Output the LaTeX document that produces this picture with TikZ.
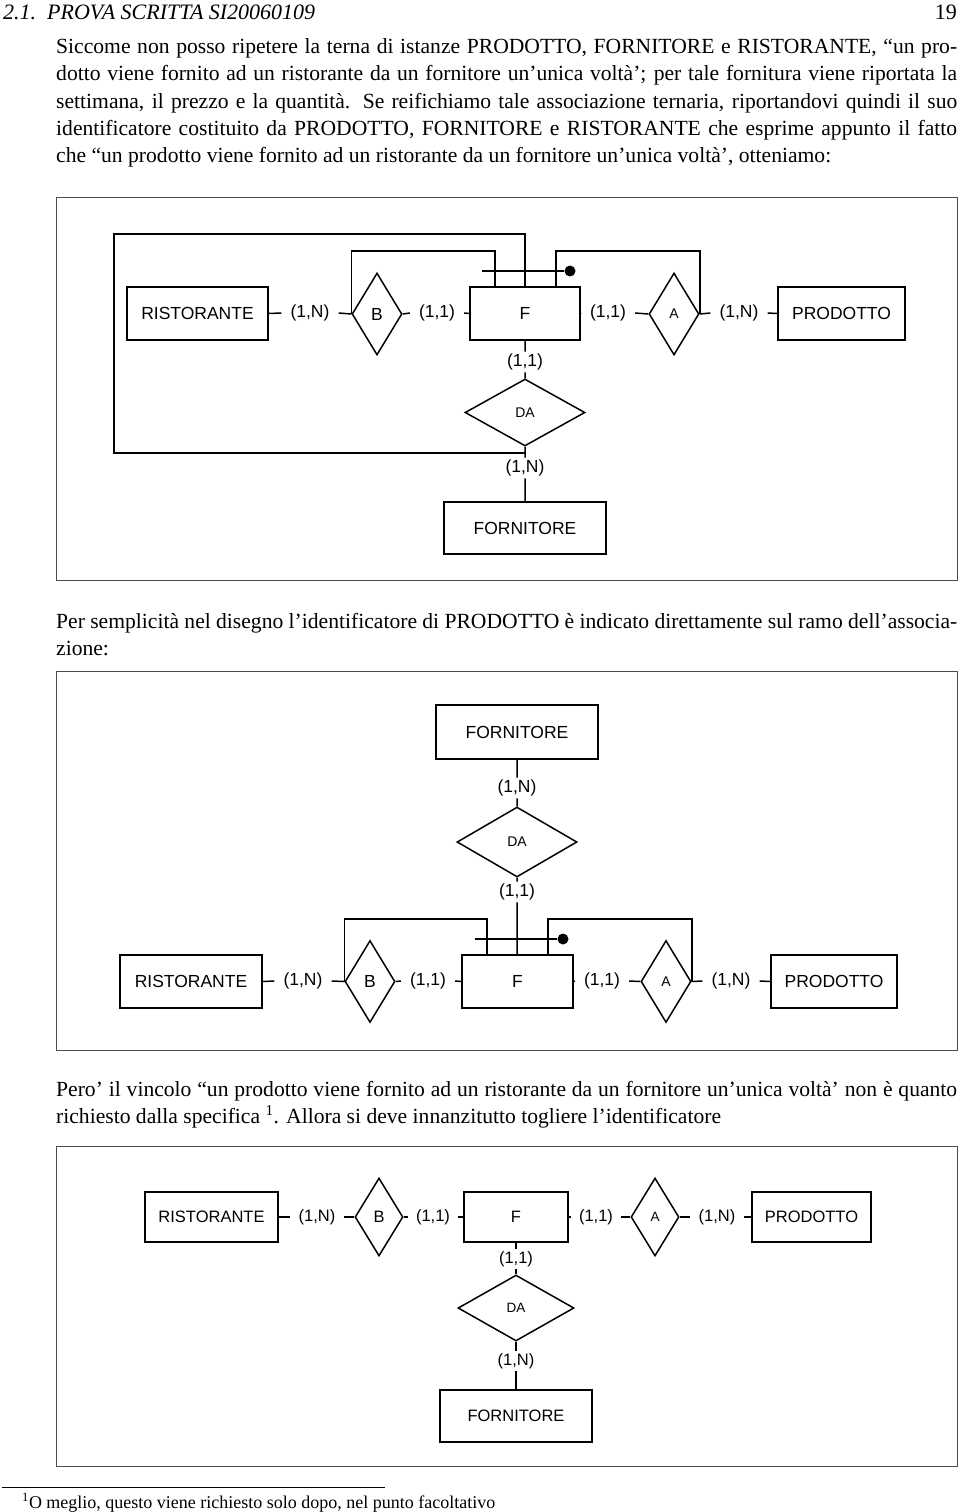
\documentclass[tikz,border=0pt]{standalone}
\usepackage{fontspec}
\setmainfont{Liberation Serif}
\newfontfamily\dsans{Liberation Sans}
\usetikzlibrary{shapes.geometric}
\tikzset{
  frame/.style={draw=black!70, line width=1pt},
  conn/.style={line width=1.5pt},
  sz/.style 2 args={minimum width=#1pt, minimum height=#2pt},
  ent/.style={draw, line width=1.5pt, inner sep=0pt, font=\dsans\fontsize{17.5}{20}\selectfont},
  ents/.style={draw, line width=1.5pt, inner sep=0pt, font=\dsans\fontsize{16.5}{19}\selectfont},
  rel/.style={draw, diamond, line width=1.5pt, inner sep=0pt, font=\dsans\fontsize{17.5}{20}\selectfont},
  relsm/.style={draw, diamond, line width=1.5pt, inner sep=0pt, font=\dsans\fontsize{14}{16}\selectfont},
  relss/.style={draw, diamond, line width=1.5pt, inner sep=0pt, font=\dsans\fontsize{13.5}{16}\selectfont},
  card/.style={inner xsep=9pt, inner ysep=2pt, font=\dsans\fontsize{17.5}{20}\selectfont},
  cards/.style={inner xsep=8pt, inner ysep=2pt, font=\dsans\fontsize{16.5}{19}\selectfont},
  dot/.style={circle, fill=black, inner sep=0pt, minimum size=11pt},
  bodyline/.style={anchor=base west, inner sep=0pt, font=\fontsize{21.6}{27}\selectfont},
}
\newcommand{\jline}[1]{\hbox to 901pt{#1}}
\begin{document}
\begin{tikzpicture}[x=1pt,y=-1pt]
\useasboundingbox (0,0) rectangle (960,1512);
\fill[white] (0,0) rectangle (960,1512);

% header
\node[anchor=base west, inner sep=0pt, font=\itshape\fontsize{22}{27}\selectfont] (hd) at (3,20) {2.1.\ \ PROVA SCRITTA SI20060109};
\node[anchor=base east, inner sep=0pt, font=\fontsize{22}{27}\selectfont] (pg) at (957,20) {19};

% paragraph 1
\node[bodyline] (t1) at (56,54) {\jline{Siccome non posso ripetere la terna di istanze PRODOTTO, FORNITORE e RISTORANTE, “un pro-}};
\node[bodyline] (t2) at (56,81) {\jline{dotto viene fornito ad un ristorante da un fornitore un’unica voltà’; per tale fornitura viene riportata la}};
\node[bodyline] (t3) at (56,108) {\jline{settimana, il prezzo e la quantità. Se reifichiamo tale associazione ternaria, riportandovi quindi il suo}};
\node[bodyline] (t4) at (56,135) {\jline{identificatore costituito da PRODOTTO, FORNITORE e RISTORANTE che esprime appunto il fatto}};
\node[bodyline] (t5) at (56,162) {che “un prodotto viene fornito ad un ristorante da un fornitore un’unica voltà’, otteniamo:};

% ---------- diagram 1 ----------
\draw[frame] (56,197) rectangle (957,580);
\node[ent, sz={141}{53}] (R1) at (197.5,313.5) {RISTORANTE};
\node[card] (l1a) at (310,313) {(1,N)};
\node[rel, sz={50}{82}] (B1) at (377,314) {B};
\node[card] (l1b) at (437,313) {(1,1)};
\node[ent, sz={110}{53}] (F1) at (525,313.5) {F};
\node[card] (l1c) at (608,313) {(1,1)};
\node[relsm, sz={50}{82}] (A1) at (674,314) {A};
\node[card] (l1d) at (739,313) {(1,N)};
\node[ent, sz={127}{53}] (P1) at (841.5,313.5) {PRODOTTO};
\node[card] (l1e) at (525,362) {(1,1)};
\node[relsm, sz={120}{67}] (DA1) at (525,412.5) {DA};
\node[card] (l1f) at (525,468) {(1,N)};
\node[ent, sz={162}{52}] (FO1) at (525,528) {FORNITORE};
\draw[conn] (R1.east) -- (l1a.west) (l1a.east) -- (B1.west)
  (B1.east) -- (l1b.west) (l1b.east) -- (F1.west)
  (F1.east) -- (l1c.west) (l1c.east) -- (A1.west)
  (A1.east) -- (l1d.west) (l1d.east) -- (P1.west)
  (F1.south) -- (l1e.north) (l1e.south) -- (DA1.north)
  (DA1.south) -- (l1f.north) (l1f.south) -- (FO1.north);
\coordinate (o1) at (525,453);
\coordinate (k1) at (114,234);
\coordinate (k2) at (495,251);
\coordinate (k3) at (556,251);
\coordinate (k5) at (482,271);
\node[dot] (d1) at (570,271) {};
\draw[conn] (F1.north) |- (k1) |- (o1);
\draw[conn] (B1.west) |- (k2) -- (k2 |- F1.north);
\draw[conn] (k3 |- F1.north) -- (k3) -| (A1.east);
\draw[conn] (k5) -- (d1);

% paragraph 2
\node[bodyline] (t6) at (56,628) {\jline{Per semplicità nel disegno l’identificatore di PRODOTTO è indicato direttamente sul ramo dell’associa-}};
\node[bodyline] (t7) at (56,655) {zione:};

% ---------- diagram 2 ----------
\draw[frame] (56,671) rectangle (957,1050);
\node[ent, sz={162}{54}] (FO2) at (517,732) {FORNITORE};
\node[card] (l2e) at (517,788) {(1,N)};
\node[relsm, sz={120}{70}] (DA2) at (517,842) {DA};
\node[card] (l2f) at (517,892) {(1,1)};
\node[ent, sz={142}{53}] (R2) at (191,981.5) {RISTORANTE};
\node[card] (l2a) at (303,981) {(1,N)};
\node[rel, sz={50}{82}] (B2) at (370,981.5) {B};
\node[card] (l2b) at (428,981) {(1,1)};
\node[ent, sz={111}{53}] (F2) at (517.5,981.5) {F};
\node[card] (l2c) at (602,981) {(1,1)};
\node[relsm, sz={50}{82}] (A2) at (666,981.5) {A};
\node[card] (l2d) at (731,981) {(1,N)};
\node[ent, sz={126}{53}] (P2) at (834,981.5) {PRODOTTO};
\draw[conn] (R2.east) -- (l2a.west) (l2a.east) -- (B2.west)
  (B2.east) -- (l2b.west) (l2b.east) -- (F2.west)
  (F2.east) -- (l2c.west) (l2c.east) -- (A2.west)
  (A2.east) -- (l2d.west) (l2d.east) -- (P2.west)
  (FO2.south) -- (l2e.north) (l2e.south) -- (DA2.north)
  (DA2.south) -- (l2f.north) (l2f.south) -- (l2f.south |- F2.north);
\coordinate (m2) at (487,919);
\coordinate (m3) at (548,919);
\coordinate (m5) at (475,939);
\node[dot] (d2) at (563,939) {};
\draw[conn] (B2.west) |- (m2) -- (m2 |- F2.north);
\draw[conn] (m3 |- F2.north) -- (m3) -| (A2.east);
\draw[conn] (m5) -- (d2);

% paragraph 3
\node[bodyline] (t8) at (56,1096) {\jline{Pero’ il vincolo “un prodotto viene fornito ad un ristorante da un fornitore un’unica voltà’ non è quanto}};
\node[bodyline] (t9) at (56,1123) {richiesto dalla specifica \textsuperscript{1}. Allora si deve innanzitutto togliere l’identificatore};

% ---------- diagram 3 ----------
\draw[frame] (56,1146) rectangle (957,1466);
\node[ents, sz={133}{50}] (R3) at (211.5,1217) {RISTORANTE};
\node[cards] (l3a) at (317,1217) {(1,N)};
\node[rel, sz={48}{78}, font=\dsans\fontsize{16.5}{19}\selectfont] (B3) at (379,1217) {B};
\node[cards] (l3b) at (433,1217) {(1,1)};
\node[ents, sz={104}{50}] (F3) at (516,1217) {F};
\node[cards] (l3c) at (596,1217) {(1,1)};
\node[relss, sz={48}{78}] (A3) at (655,1217) {A};
\node[cards] (l3d) at (717,1217) {(1,N)};
\node[ents, sz={119}{50}] (P3) at (811.5,1217) {PRODOTTO};
\node[cards] (l3e) at (516,1259) {(1,1)};
\node[relss, sz={116}{66}] (DA3) at (516,1308) {DA};
\node[cards] (l3f) at (516,1361) {(1,N)};
\node[ents, sz={152}{52}] (FO3) at (516,1416) {FORNITORE};
\draw[conn] (R3.east) -- (l3a.west) (l3a.east) -- (B3.west)
  (B3.east) -- (l3b.west) (l3b.east) -- (F3.west)
  (F3.east) -- (l3c.west) (l3c.east) -- (A3.west)
  (A3.east) -- (l3d.west) (l3d.east) -- (P3.west)
  (F3.south) -- (l3e.north) (l3e.south) -- (DA3.north)
  (DA3.south) -- (l3f.north) (l3f.south) -- (FO3.north);

% footnote
\draw[line width=0.6pt] (2,1487) -- (385,1487);
\node[anchor=base west, inner sep=0pt, font=\fontsize{18}{21}\selectfont] (fn) at (22,1508) {\textsuperscript{1}O meglio, questo viene richiesto solo dopo, nel punto facoltativo};
\end{tikzpicture}
\end{document}
